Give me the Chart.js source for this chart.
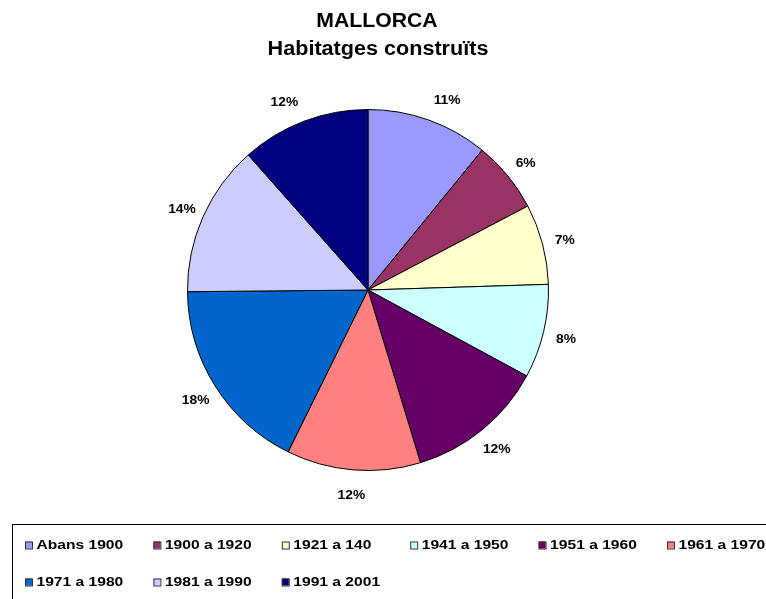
<!DOCTYPE html>
<html>
<head>
<meta charset="utf-8">
<script src="https://cdn.jsdelivr.net/npm/chart.js@4"></script>
<style>
  html, body { margin: 0; padding: 0; background: #fff; }
  #wrap { width: 766px; height: 599px; position: relative; }
</style>
</head>
<body>
<div id="wrap"><canvas id="myChart" width="766" height="599"></canvas></div>
<script>
// categories (periods of construction)
const labels = [
  "Abans 1900",
  "1900 a 1920",
  "1921 a 140",
  "1941 a 1950",
  "1951 a 1960",
  "1961 a 1970",
  "1971 a 1980",
  "1981 a 1990",
  "1991 a 2001",
];

// share of dwellings built, %
const values = [10.9, 6.4, 7.2, 8.4, 12.4, 12.0, 17.55, 13.6, 11.55];

const colors = [
  "#9999FF",
  "#993366",
  "#FFFFCC",
  "#CCFFFF",
  "#660066",
  "#FF8080",
  "#0066CC",
  "#CCCCFF",
  "#000080",
];

const titleLines = ["MALLORCA", "Habitatges construïts"];

const FONT = "Liberation Sans, Arial, sans-serif";

// text a bit wider than the font, like the original rendering
function wideText(ctx, txt, x, y, sx) {
  ctx.save();
  ctx.translate(x, y);
  ctx.scale(sx, 1);
  ctx.fillText(txt, 0, 0);
  ctx.restore();
}

// title + percent labels + boxed legend, drawn on the canvas
const extras = {
  id: "extras",
  afterDatasetsDraw(chart) {
    const ctx = chart.ctx;
    const meta = chart.getDatasetMeta(0);
    const data = chart.data.datasets[0].data;
    const total = data.reduce((a, b) => a + b, 0);

    ctx.save();
    ctx.fillStyle = "#000";
    ctx.textAlign = "center";
    ctx.textBaseline = "middle";

    // percent labels outside the pie
    ctx.font = "bold 12px " + FONT;
    meta.data.forEach((arc, i) => {
      const mid = (arc.startAngle + arc.endAngle) / 2;
      const r = arc.outerRadius + 23;
      let x = arc.x + Math.cos(mid) * r;
      const y = arc.y + Math.sin(mid) * r + 2.5;
      // labels near the top get pushed sideways a little
      if (Math.sin(mid) < -0.85) x += Math.cos(mid) * 32;
      wideText(ctx, Math.round((data[i] / total) * 100) + "%", x, y, 1.15);
    });

    // title
    ctx.font = "bold 20px " + FONT;
    wideText(ctx, titleLines[0], 377, 21, 1.06);
    wideText(ctx, titleLines[1], 378, 49, 1.08);

    // legend box
    ctx.strokeStyle = "#000";
    ctx.lineWidth = 1;
    ctx.strokeRect(12.5, 524.5, 800, 100);

    ctx.font = "bold 13px " + FONT;
    ctx.textAlign = "left";
    labels.forEach((lab, i) => {
      const col = i % 6;
      const row = Math.floor(i / 6);
      const x = 25 + col * 128.4;
      const y = 545 + row * 37;
      ctx.fillStyle = colors[i];
      ctx.fillRect(x, y - 3.5, 7, 7);
      ctx.strokeStyle = "#333";
      ctx.strokeRect(x + 0.5, y - 3.5 + 0.5, 7, 7);
      ctx.fillStyle = "#000";
      wideText(ctx, lab, x + 11.5, y + 0.5, 1.2);
    });
    ctx.restore();
  },
};

const ctx = document.getElementById("myChart").getContext("2d");
const chart = new Chart(ctx, {
  type: "pie",
  data: {
    labels: labels,
    datasets: [
      {
        data: values,
        backgroundColor: colors,
        borderColor: "#000",
        borderWidth: 1,
        hoverOffset: 0,
      },
    ],
  },
  options: {
    responsive: false,
    animation: false,
    layout: {
      padding: { left: 187, right: 217, top: 109, bottom: 128 },
    },
    plugins: {
      legend: { display: false },
      tooltip: { enabled: false },
      title: { display: false },
    },
  },
  plugins: [extras],
});
</script>
</body>
</html>
